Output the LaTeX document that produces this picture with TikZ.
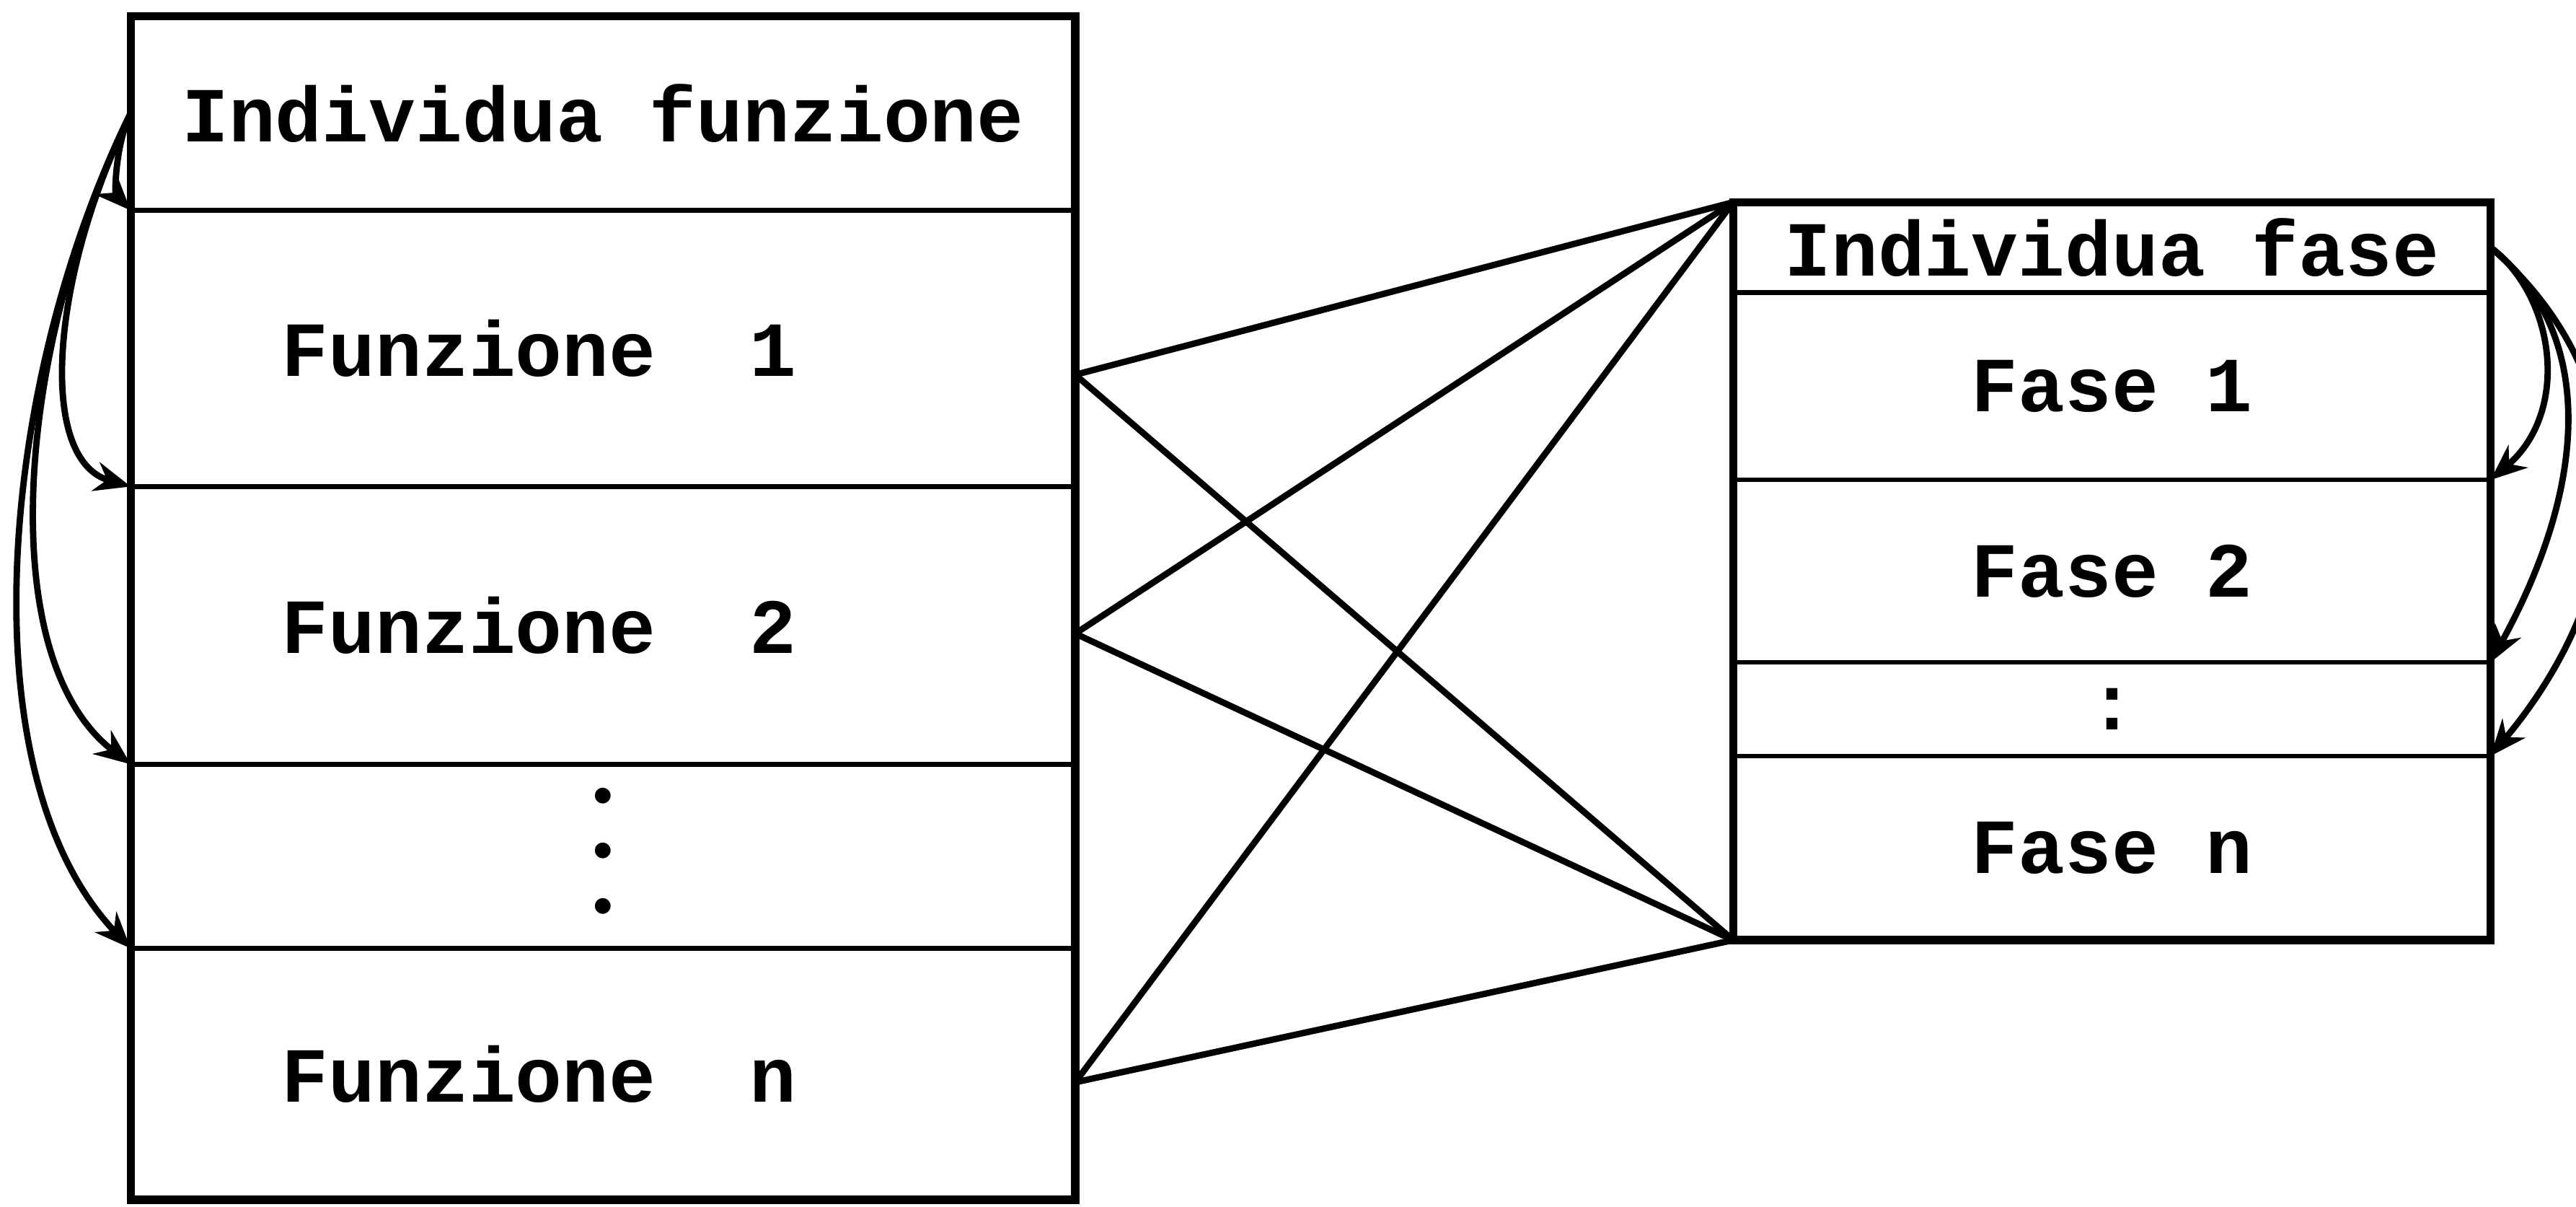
\documentclass[tikz,border=0pt]{standalone}
\usepackage{fontspec}
\setmonofont{Liberation Mono}
\usetikzlibrary{positioning,arrows.meta,calc}

\begin{document}
\begin{tikzpicture}[
    x=0.1mm, y=-0.1mm,
    node distance=0pt,
    row/.style={draw, line width=0.8pt, outer sep=0pt, inner sep=0pt, align=center, font=\ttfamily\bfseries\fontsize{13.5}{16}\selectfont},
    lrow/.style={row, minimum width=57.5mm},
    frow/.style={lrow, inner xsep=9.2mm, text width=39.1mm, align=left},
    srow/.style={row, minimum width=46.1mm},
    dotsfont/.style={font=\ttfamily\bfseries\fontsize{9.5}{9.5}\selectfont},
    frame/.style={draw, line width=1.4pt},
    link/.style={line width=1.1pt},
    cyc/.style={-{Stealth[length=2.2mm,width=1.8mm]}, line width=1.1pt}
]
\useasboundingbox (0,0) rectangle (1568,734);
\clip (0,0) rectangle (1568,734);

% functions
\node[lrow, minimum height=11.8mm] (ifun) at (367,69) {Individua funzione};
\node[frow, minimum height=16.8mm, below=of ifun] (fun1) {Funzione\hspace{1.2em}1};
\node[frow, minimum height=16.9mm, below=of fun1] (fun2) {Funzione\hspace{1.2em}2};
\node[lrow, minimum height=11.2mm, below=of fun2, dotsfont] (fdots) {•\\•\\•};
\node[frow, minimum height=15.3mm, below=of fdots] (funn) {Funzione\hspace{1.2em}n};
\draw[frame] (ifun.north west) rectangle (funn.south east);

% phases
\node[srow, minimum height=5.5mm] (ifase) at (1285.5,150.5) {Individua fase};
\node[srow, minimum height=11.4mm, below=of ifase] (fase1) {Fase 1};
\node[srow, minimum height=11.1mm, below=of fase1] (fase2) {Fase 2};
\node[srow, minimum height=5.7mm, below=of fase2] (fsdots) {:};
\node[srow, minimum height=11.2mm, below=of fsdots] (fasen) {Fase n};
\draw[frame] (ifase.north west) rectangle (fasen.south east);

% links
\draw[link] ([yshift=-1.6mm]fun1.east) -- (ifase.north west);
\draw[link] ([yshift=-1.6mm]fun1.east) -- (fasen.south west);
\draw[link] ([yshift=-0.5mm]fun2.east) -- (ifase.north west);
\draw[link] ([yshift=-0.5mm]fun2.east) -- (fasen.south west);
\draw[link] ([yshift=-0.5mm]funn.east) -- (ifase.north west);
\draw[link] ([yshift=-0.5mm]funn.east) -- (fasen.south west);

% cycles
\draw[cyc] (ifun.west) .. controls (70,88) and (70,118) .. (fun1.north west);
\draw[cyc] (ifun.west) .. controls (30,170) and (23,280) .. (fun2.north west);
\draw[cyc] (ifun.west) .. controls (10,210) and (-5,400) .. (fdots.north west);
\draw[cyc] (ifun.west) .. controls (0,230) and (-22,470) .. (funn.north west);
\draw[cyc] (ifase.east) .. controls (1555,180) and (1565,250) .. (fase1.south east);
\draw[cyc] (ifase.east) .. controls (1578,200) and (1578,290) .. (fase2.south east);
\draw[cyc] (ifase.east) .. controls (1608,230) and (1608,350) .. (fsdots.south east);
\end{tikzpicture}
\end{document}
